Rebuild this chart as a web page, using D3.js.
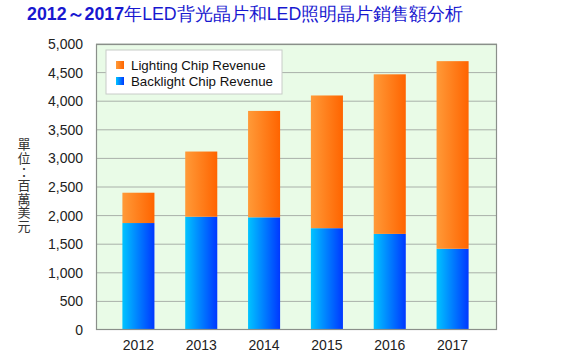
<!DOCTYPE html>
<html>
<head>
<meta charset="utf-8">
<script src="https://cdn.jsdelivr.net/npm/d3@7"></script>
<style>
  body { margin: 0; background: #fff; }
  svg { display: block; font-family: "Liberation Sans", Arial, sans-serif; }
</style>
</head>
<body>
<svg id="chart" width="583" height="358"></svg>
<script>
const years = ["2012", "2013", "2014", "2015", "2016", "2017"];
const backlight = [1870, 1980, 1970, 1780, 1680, 1420];
const lighting = [530, 1140, 1860, 2320, 2790, 3280];
const yTicks = [0, 500, 1000, 1500, 2000, 2500, 3000, 3500, 4000, 4500, 5000];
const seriesNames = ["Lighting Chip Revenue", "Backlight Chip Revenue"];

const svg = d3.select("#chart");
const plot = { left: 96, right: 497, top: 44, bottom: 330 };

const defs = svg.append("defs");
function grad(id, c0, c1) {
    const g = defs.append("linearGradient").attr("id", id)
        .attr("x1", "0%").attr("x2", "100%").attr("y1", "0%").attr("y2", "0%");
    g.append("stop").attr("offset", "0%").attr("stop-color", c0);
    g.append("stop").attr("offset", "100%").attr("stop-color", c1);
}
grad("gBlue", "#00c4ff", "#0038ff");
grad("gOrange", "#ff9a38", "#ff6400");

// title: year range bold, rest regular
const title = svg.append("text")
    .attr("x", 27).attr("y", 20)
    .attr("font-size", 17.8)
    .attr("fill", "#1818d0");
title.append("tspan").attr("font-weight", "bold").text("2012～2017");
title.append("tspan").text("年LED背光晶片和LED照明晶片銷售額分析");

const x = d3.scaleBand().domain(years).range([107, 484]).paddingInner(0.49).paddingOuter(0.245);
const y = d3.scaleLinear().domain([0, 5000]).range([plot.bottom, plot.top]);

// plot background
svg.append("rect")
    .attr("x", plot.left).attr("y", plot.top)
    .attr("width", plot.right - plot.left).attr("height", plot.bottom - plot.top)
    .attr("fill", "#e9fbe7");

// grid
svg.append("g").selectAll("line").data(yTicks.slice(1)).join("line")
    .attr("x1", plot.left).attr("x2", plot.right)
    .attr("y1", d => y(d)).attr("y2", d => y(d))
    .attr("stroke", "#a9b0a9").attr("stroke-width", 1);

// y axis labels
const yAxis = svg.append("g").attr("transform", `translate(${plot.left},0)`)
    .call(d3.axisLeft(y).tickValues(yTicks).tickFormat(d3.format(",")).tickSize(0).tickPadding(13));
yAxis.select(".domain").remove();
yAxis.selectAll("text").attr("font-size", 14).attr("fill", "#222")
    .attr("font-family", "\"Liberation Sans\", Arial, sans-serif");

// x axis labels
const xAxis = svg.append("g").attr("transform", `translate(0,${plot.bottom})`)
    .call(d3.axisBottom(x).tickSize(0).tickPadding(10));
xAxis.select(".domain").remove();
xAxis.selectAll("text").attr("font-size", 14).attr("fill", "#222")
    .attr("font-family", "\"Liberation Sans\", Arial, sans-serif");

// stacked bars
const rows = years.map((yr, i) => ({ year: yr, backlight: backlight[i], lighting: lighting[i] }));
const stack = d3.stack().keys(["backlight", "lighting"])(rows);
const fills = { backlight: "url(#gBlue)", lighting: "url(#gOrange)" };

svg.append("g").selectAll("g").data(stack).join("g")
    .attr("fill", d => fills[d.key])
    .selectAll("rect").data(d => d).join("rect")
    .attr("x", d => x(d.data.year))
    .attr("width", x.bandwidth())
    .attr("y", d => y(d[1]))
    .attr("height", d => y(d[0]) - y(d[1]));

// plot border
svg.append("rect")
    .attr("x", plot.left + 0.5).attr("y", plot.top + 0.5)
    .attr("width", plot.right - plot.left - 1).attr("height", plot.bottom - plot.top - 1)
    .attr("fill", "none").attr("stroke", "#8a8f8a").attr("stroke-width", 1.2);

// legend
const lg = svg.append("g").attr("transform", "translate(106,50)");
lg.append("rect").attr("width", 176).attr("height", 44)
    .attr("fill", "#fff").attr("stroke", "#c8ccc8");
const legendFills = ["url(#gOrange)", "url(#gBlue)"];
seriesNames.forEach((name, i) => {
    lg.append("rect").attr("x", 10).attr("y", 11 + i * 16).attr("width", 8).attr("height", 8)
        .attr("fill", legendFills[i]);
    lg.append("text").attr("x", 25).attr("y", 19.5 + i * 16)
        .attr("font-size", 13.3).attr("fill", "#111").text(name);
});

// vertical y-axis unit label
svg.append("text")
    .attr("x", 24).attr("y", 138)
    .attr("writing-mode", "vertical-rl")
    .attr("letter-spacing", 0.6)
    .attr("font-size", 13).attr("fill", "#333")
    .attr("font-family", "\"Noto Sans CJK TC\", sans-serif")
    .text("單位：百萬美元");
</script>
</body>
</html>
